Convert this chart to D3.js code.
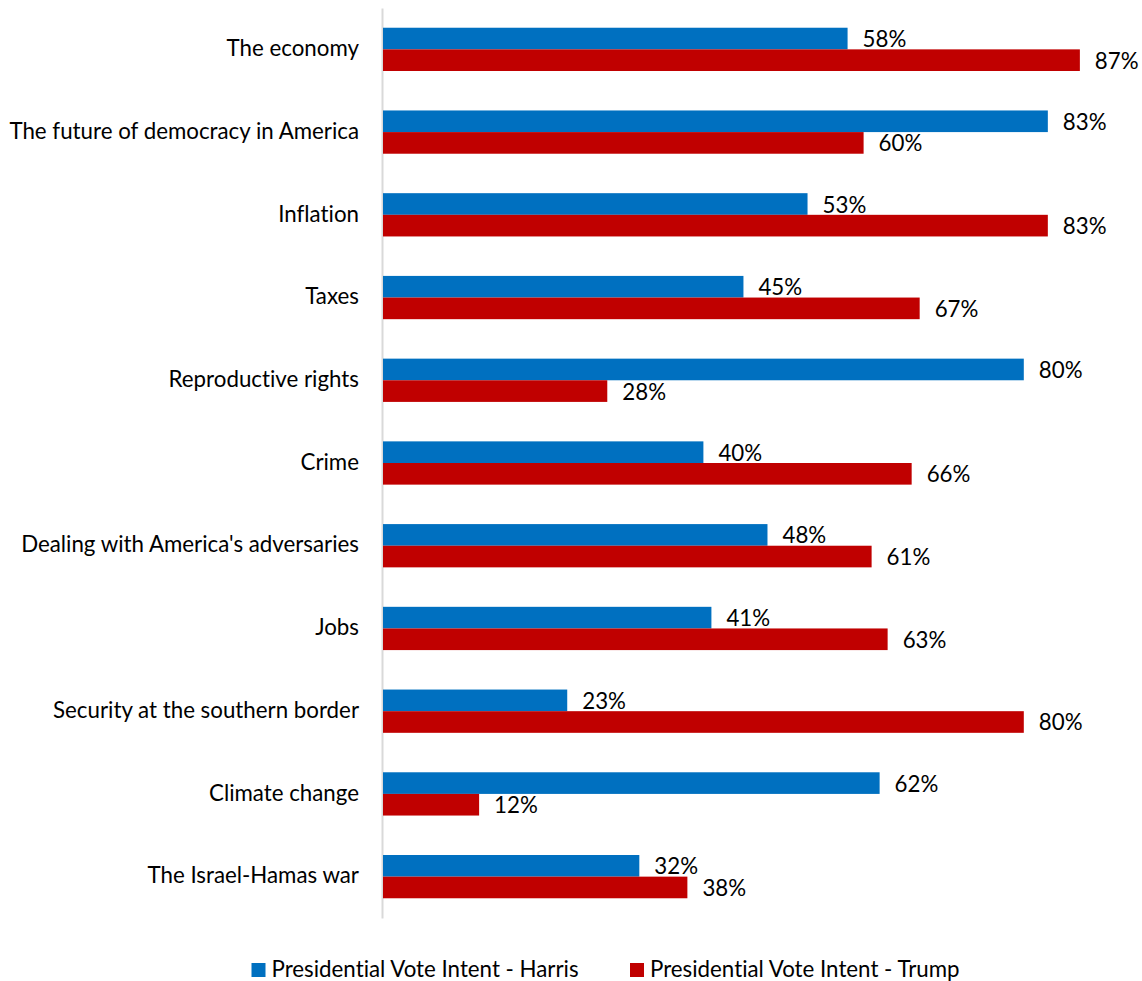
<!DOCTYPE html>
<html>
<head>
<meta charset="utf-8">
<script src="https://cdn.jsdelivr.net/npm/d3@7"></script>
<style>
  html, body { margin: 0; padding: 0; background: #fff; }
  svg text { font-family: Lato, "Open Sans", sans-serif; fill: #000; font-variant-ligatures: none; }
</style>
</head>
<body>
<svg id="chart" width="1142" height="981"></svg>
<script>
// Issues rated as important, by presidential vote intent
const categories = [
  "The economy",
  "The future of democracy in America",
  "Inflation",
  "Taxes",
  "Reproductive rights",
  "Crime",
  "Dealing with America's adversaries",
  "Jobs",
  "Security at the southern border",
  "Climate change",
  "The Israel-Hamas war"
];
const harrisValues = [58, 83, 53, 45, 80, 40, 48, 41, 23, 62, 32];
const trumpValues  = [87, 60, 83, 67, 28, 66, 61, 63, 80, 12, 38];
const seriesNames  = ["Presidential Vote Intent - Harris", "Presidential Vote Intent - Trump"];
const seriesColors = ["#0070C0", "#C00000"];

const rows = categories.map((c, i) => ({ category: c, values: [harrisValues[i], trumpValues[i]] }));

const svg = d3.select("#chart");
const fontSize = 22.3;

const x = d3.scaleLinear().domain([0, 100]).range([383, 1184]);
const y = d3.scaleBand().domain(categories).range([8, 918])
  .paddingInner(0.477).paddingOuter(0.2385);
const ySub = d3.scaleBand().domain([0, 1]).range([0, y.bandwidth()]);

// Category axis
const axis = svg.append("g")
  .attr("transform", "translate(382,0)")
  .call(d3.axisLeft(y).tickSize(0).tickPadding(23));
axis.select(".domain").attr("stroke", "#D9D9D9").attr("stroke-width", 2);
axis.selectAll(".tick text")
  .style("font-family", "Lato, 'Open Sans', sans-serif")
  .style("font-variant-ligatures", "none")
  .attr("font-size", fontSize)
  .attr("fill", "#000")
  .attr("dy", "0.3em");

// Bars and value labels
const groups = svg.append("g").selectAll("g")
  .data(rows).join("g")
  .attr("transform", d => `translate(0,${y(d.category)})`);

groups.selectAll("rect")
  .data(d => d.values.map((v, s) => ({ v, s })))
  .join("rect")
  .attr("x", x(0))
  .attr("y", d => ySub(d.s))
  .attr("width", d => x(d.v) - x(0))
  .attr("height", ySub.bandwidth())
  .attr("fill", d => seriesColors[d.s]);

groups.selectAll("text.value")
  .data(d => d.values.map((v, s) => ({ v, s })))
  .join("text")
  .attr("class", "value")
  .attr("x", d => x(d.v) + 15)
  .attr("y", d => ySub(d.s) + ySub.bandwidth() / 2 + 8.5)
  .attr("font-size", fontSize)
  .text(d => d.v + "%");

// Legend
const legendX = [251.5, 630];
const legend = svg.append("g").selectAll("g")
  .data(seriesNames).join("g")
  .attr("transform", (d, i) => `translate(${legendX[i]},963)`);
legend.append("rect")
  .attr("width", 14).attr("height", 14)
  .attr("fill", (d, i) => seriesColors[i]);
legend.append("text")
  .attr("x", 20).attr("y", 13.5)
  .attr("font-size", fontSize)
  .text(d => d);
</script>
</body>
</html>
